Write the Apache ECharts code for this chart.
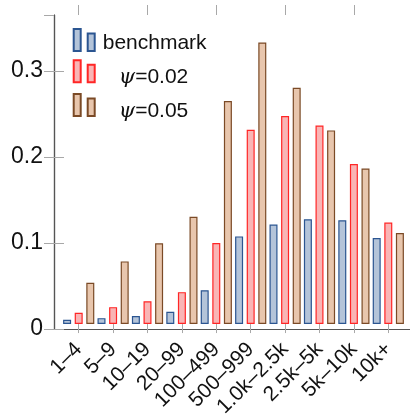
<!DOCTYPE html>
<html><head><meta charset="utf-8">
<script src="https://cdn.jsdelivr.net/npm/echarts@6/dist/echarts.min.js"></script>
<style>html,body{margin:0;padding:0;background:#fff}#c{width:410px;height:420px}</style>
</head><body><div id="c"></div>
<script>
var categories = ['1–4','5–9','10–19','20–99','100–499','500–999','1.0k–2.5k','2.5k–5k','5k–10k','10k+'];
var benchmark = [0.005,0.007,0.0095,0.0145,0.040,0.1035,0.1175,0.1237,0.1226,0.1016];
var psi002 = [0.0133,0.020,0.027,0.0377,0.0958,0.2295,0.2458,0.2345,0.189,0.1198];
var psi005 = [0.0488,0.074,0.0953,0.1267,0.2633,0.3326,0.279,0.2287,0.1837,0.1074];
var yTicks = [0, 0.1, 0.2, 0.3];

var FONT = 'Liberation Sans';
var axisDark = '#555';
var tickGray = '#a8a8a8';
var yMax = 0.365;

var chart = echarts.init(document.getElementById('c'), null, {renderer:'canvas'});
var legendIcon = 'path://M0,0L7,0L7,22L0,22Z M14,4.5L21,4.5L21,22L14,22Z';

function mkSeries(name, data, fill, border) {
  return {
    name: name, type: 'bar', data: data, xAxisIndex: 2, yAxisIndex: 2,
    barWidth: 8, barGap: '45%',
    itemStyle: {color: fill, borderColor: border, borderWidth: 1.2},
    emphasis: {disabled: true}, animation: false
  };
}

chart.setOption({
  animation: false,
  textStyle: {fontFamily: FONT},
  grid: [
    {left: 54, right: -3, top: 15, bottom: 91},
    {left: 61.5, right: 4.5, top: 15, bottom: 91}
  ],
  xAxis: [
    {gridIndex: 0, type: 'value', min: 0, max: 1, position: 'bottom',
     axisLine: {show: true, lineStyle: {color: axisDark, width: 1.2}}, axisTick: {show: false},
     axisLabel: {show: false}, splitLine: {show: false}},
    {gridIndex: 0, type: 'value', min: 0, max: 1, position: 'top',
     axisLine: {show: true, lineStyle: {color: axisDark, width: 1.2}}, axisTick: {show: false},
     axisLabel: {show: false}, splitLine: {show: false}},
    {gridIndex: 1, type: 'category', data: categories, position: 'bottom',
     axisLine: {show: false},
     axisTick: {show: true, alignWithLabel: true, length: 9, inside: false, lineStyle: {color: tickGray, width: 1}},
     axisLabel: {rotate: 45, interval: 0, fontSize: 21, margin: 22, color: '#111', fontFamily: FONT},
     splitLine: {show: false}},
    {gridIndex: 1, type: 'category', data: categories, position: 'top',
     axisLine: {show: false},
     axisTick: {show: true, alignWithLabel: true, length: 10, inside: false, lineStyle: {color: tickGray, width: 1}},
     axisLabel: {show: false}, splitLine: {show: false}}
  ],
  yAxis: [
    {gridIndex: 0, type: 'value', min: yTicks[0], max: yMax, interval: 0.1, position: 'left',
     axisLine: {show: true, lineStyle: {color: axisDark, width: 1.2}},
     axisTick: {show: true, inside: true, length: 10, lineStyle: {color: tickGray, width: 1}},
     axisLabel: {fontSize: 23, margin: 11, padding: [5, 0, 0, 0], color: '#111', fontFamily: FONT, showMaxLabel: false,
       formatter: function(v){ var r = Math.round(v*10)/10; return (yTicks.indexOf(r) >= 0 && Math.abs(v - r) < 1e-9) ? String(r) : ''; }},
     splitLine: {show: false}},
    {gridIndex: 0, type: 'value', min: yTicks[0], max: yMax, interval: 0.1, position: 'right',
     axisLine: {show: true, lineStyle: {color: axisDark, width: 1.2}},
     axisTick: {show: true, inside: true, length: 10, lineStyle: {color: tickGray, width: 1}},
     axisLabel: {show: false}, splitLine: {show: false}},
    {gridIndex: 1, type: 'value', min: 0, max: yMax, show: false, splitLine: {show: false}}
  ],
  legend: {
    orient: 'vertical', left: 72.7, top: 26, padding: 0, itemWidth: 21, itemHeight: 22, itemGap: 3.3,
    icon: legendIcon, selectedMode: false,
    textStyle: {fontSize: 21, lineHeight: 22, color: '#111', fontFamily: FONT, padding: [6, 0, 0, 3],
      rich: {
        p: {fontSize: 21, lineHeight: 22, fontStyle: 'italic', fontFamily: 'DejaVu Serif', padding: [6, 0, 0, 16], color: '#111'},
        t: {fontSize: 21, lineHeight: 22, fontFamily: FONT, padding: [6, 0, 0, 0], color: '#111'}
      }},
    formatter: function(name){
      if (name.charAt(0) === 'ψ') return '{p|ψ}{t|' + name.slice(1) + '}';
      return name;
    },
    data: ['benchmark', 'ψ=0.02', 'ψ=0.05']
  },
  series: [
    mkSeries('benchmark', benchmark, '#b4c4d9', '#2b5591'),
    mkSeries('ψ=0.02', psi002, '#f9b5b5', '#ff2626'),
    mkSeries('ψ=0.05', psi005, '#e8c6ad', '#7b4a26')
  ]
});
</script></body></html>
